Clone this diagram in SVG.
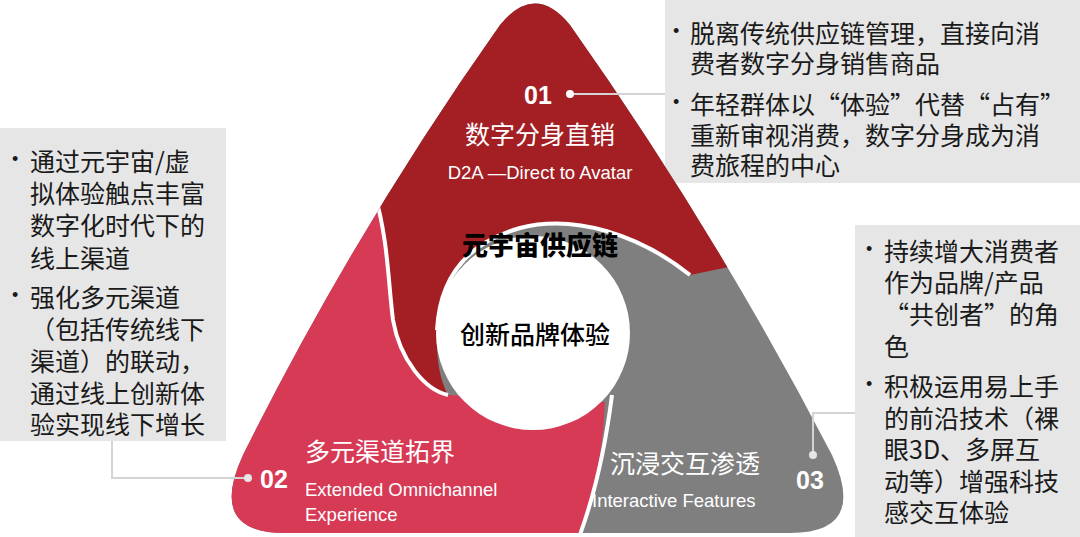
<svg xmlns="http://www.w3.org/2000/svg" width="1080" height="537" viewBox="0 0 1080 537">
<style>
.box{fill:#e6e6e6}
.bt{font-family:"Noto Sans CJK SC",sans-serif;font-size:25px;fill:#1a1a1a;dominant-baseline:central}
.bu{font-family:"Liberation Sans",Arial,sans-serif;font-size:18px;fill:#1a1a1a;dominant-baseline:central}
.w{fill:#fff;font-family:"Noto Sans CJK SC",sans-serif;dominant-baseline:central}
.cn{font-size:25px}
.en{font-family:"Liberation Sans",Arial,sans-serif;font-size:18.5px}
.num{font-family:"Liberation Sans",Arial,sans-serif;font-size:25px;font-weight:bold}
.sep{fill:none;stroke:#fff;stroke-width:4}
.con{fill:none;stroke:#d4d4d4;stroke-width:2}
</style>
<defs>
<clipPath id="tri"><path d="M500,25 Q535,-18 570,25 Q715,230 832,455 Q868,533 790,533 L285,533 Q207,533 243,455 Q355,230 500,25 Z"/></clipPath>
</defs>
<g id="boxes">
<rect class="box" x="665" y="0" width="415" height="183"/>
<rect class="box" x="0" y="128" width="226" height="313"/>
<rect class="box" x="855" y="225" width="225" height="312"/>
</g>
<g id="triangle">
<path d="M500,25 Q535,-18 570,25 Q715,230 832,455 Q868,533 790,533 L285,533 Q207,533 243,455 Q355,230 500,25 Z" fill="#7f7f7f"/>
<g clip-path="url(#tri)">
<path d="M300,0 L860,0 L860,240 L690,275 C640,235 575,214 520,228 C470,242 440,275 437,330 C436,360 440,380 448,395 C425,390 400,360 393,320 C388,280 388,240 375,195 L300,150 Z" fill="#a31f24"/>
<path d="M375,195 C388,240 388,280 393,320 C400,360 425,390 448,395 L605,402 C603,450 595,495 578,540 L200,540 L200,195 Z" fill="#d63a55"/>
<path class="sep" d="M375,195 C388,240 388,280 393,320 C400,360 425,390 448,395"/>
<path class="sep" d="M690,275 C640,235 575,214 520,228 C470,242 440,275 437,330"/>
<path class="sep" d="M612,395 C605,450 595,495 578,540"/>
</g>
<circle cx="533" cy="333" r="97" fill="#fff"/>
</g>
<g id="connectors">
<path class="con" d="M570,94 H665"/>
<path class="con" d="M112,441 V478 H248"/>
<path class="con" d="M813,455 V413 H855"/>
<circle cx="570" cy="94" r="4" fill="#fff"/>
<circle cx="248" cy="478" r="4" fill="#e6e6e6"/>
<circle cx="813" cy="455" r="4" fill="#e6e6e6"/>
</g>
<g id="node1">
<text class="w num" x="538" y="95" text-anchor="middle">01</text>
<text class="w cn" x="540" y="133" text-anchor="middle">数字分身直销</text>
<text class="w en" x="540" y="172" text-anchor="middle">D2A —Direct to Avatar</text>
</g>
<g id="node2">
<text class="w cn" x="305" y="450">多元渠道拓界</text>
<text class="w num" x="260" y="479">02</text>
<text class="w en" x="305" y="489">Extended Omnichannel</text>
<text class="w en" x="305" y="514">Experience</text>
</g>
<g id="node3">
<text class="w cn" x="610" y="462">沉浸交互渗透</text>
<text class="w en" x="592" y="500">Interactive Features</text>
<text class="w num" x="796" y="480">03</text>
</g>
<g id="center">
<text x="540" y="243" text-anchor="middle" dominant-baseline="central" font-family="Noto Sans CJK SC,sans-serif" font-size="26" font-weight="900" fill="#000">元宇宙供应链</text>
<text x="535" y="333" text-anchor="middle" dominant-baseline="central" font-family="Noto Sans CJK SC,sans-serif" font-size="25" font-weight="500" fill="#000">创新品牌体验</text>
</g>
<g id="text1">
<text class="bu" x="673" y="31">•</text><text class="bt" x="690" y="32">脱离传统供应链管理，直接向消</text>
<text class="bt" x="690" y="62">费者数字分身销售商品</text>
<text class="bu" x="673" y="102">•</text><text class="bt" x="690" y="103">年轻群体以“体验”代替“占有”</text>
<text class="bt" x="690" y="134">重新审视消费，数字分身成为消</text>
<text class="bt" x="690" y="164">费旅程的中心</text>
</g>
<g id="text2">
<text class="bu" x="12" y="159">•</text><text class="bt" x="30" y="160">通过元宇宙/虚</text>
<text class="bt" x="30" y="192">拟体验触点丰富</text>
<text class="bt" x="30" y="224">数字化时代下的</text>
<text class="bt" x="30" y="257">线上渠道</text>
<text class="bu" x="12" y="295">•</text><text class="bt" x="30" y="296">强化多元渠道</text>
<text class="bt" x="30" y="328">（包括传统线下</text>
<text class="bt" x="30" y="360">渠道）的联动，</text>
<text class="bt" x="30" y="392">通过线上创新体</text>
<text class="bt" x="30" y="423">验实现线下增长</text>
</g>
<g id="text3">
<text class="bu" x="866" y="249">•</text><text class="bt" x="884" y="250">持续增大消费者</text>
<text class="bt" x="884" y="281">作为品牌/产品</text>
<text class="bt" x="884" y="313">“共创者”的角</text>
<text class="bt" x="884" y="345">色</text>
<text class="bu" x="866" y="384">•</text><text class="bt" x="884" y="385">积极运用易上手</text>
<text class="bt" x="884" y="417">的前沿技术（裸</text>
<text class="bt" x="884" y="448">眼3D、多屏互</text>
<text class="bt" x="884" y="480">动等）增强科技</text>
<text class="bt" x="884" y="511">感交互体验</text>
</g>
</svg>
